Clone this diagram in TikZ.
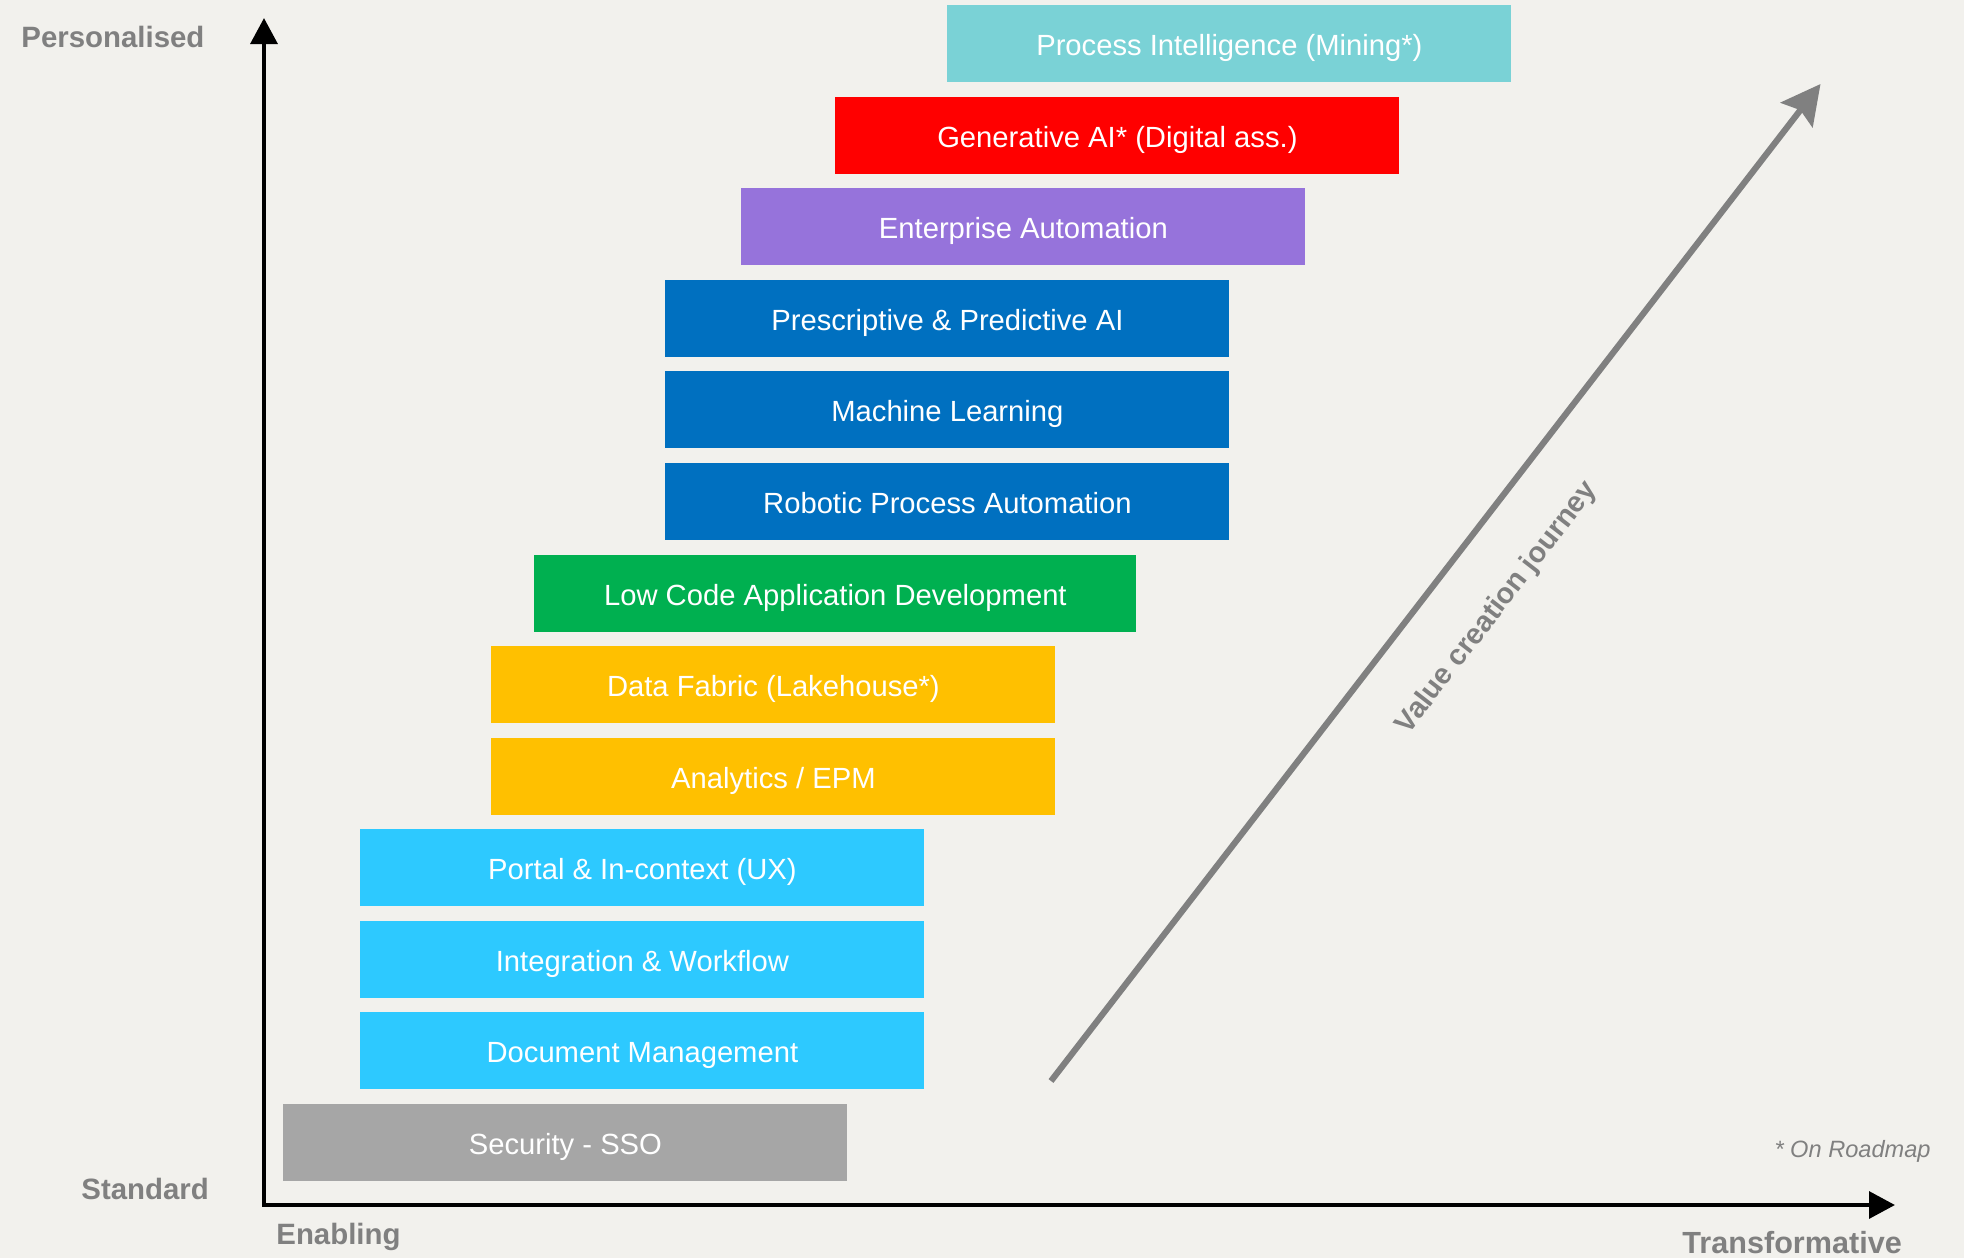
\documentclass[tikz,border=0pt]{standalone}
\usepackage{fontspec}
\setmainfont{Liberation Sans}
\usetikzlibrary{arrows.meta}
\definecolor{bg}{HTML}{F2F1ED}
\definecolor{cPI}{HTML}{7AD2D6}
\definecolor{cRed}{HTML}{FF0000}
\definecolor{cPur}{HTML}{9673DB}
\definecolor{cBlue}{HTML}{0070C0}
\definecolor{cGreen}{HTML}{00B050}
\definecolor{cYel}{HTML}{FFC000}
\definecolor{cLB}{HTML}{2DC9FF}
\definecolor{cGray}{HTML}{A6A6A6}
\definecolor{labgray}{HTML}{808080}
\begin{document}
\begin{tikzpicture}[x=0.5pt,y=-0.5pt,
  blk/.style={anchor=north west, minimum width=282pt, minimum height=38.5pt, inner sep=0pt,
    text=white, text height=11.6pt, text depth=0pt, font=\fontsize{14.6}{17}\selectfont},
  lbl/.style={text=labgray, inner sep=0pt, font=\bfseries\fontsize{14.7}{17}\selectfont},
  axis/.style={line width=2.25pt, {Triangle[length=13pt,width=13.3pt]}-{Triangle[length=13pt,width=13.3pt]}},
  journey/.style={draw=labgray, line width=3.1pt, -{Stealth[length=19.5pt,width=20pt,inset=3pt]}}]
\fill[bg] (0,0) rectangle (1964,1258);
\useasboundingbox (0,0) rectangle (1964,1258);

\node[blk, fill=cPI] (pi) at (947,5) {Process Intelligence (Mining*)};
\node[blk, fill=cRed] (gen) at (835,97) {Generative AI* (Digital ass.)};
\node[blk, fill=cPur] (ea) at (741,188) {Enterprise Automation};
\node[blk, fill=cBlue] (pp) at (665,280) {Prescriptive \& Predictive AI};
\node[blk, fill=cBlue] (ml) at (665,371) {Machine Learning};
\node[blk, fill=cBlue] (rpa) at (665,463) {Robotic Process Automation};
\node[blk, fill=cGreen, minimum width=301pt] (lc) at (534,555) {Low Code Application Development};
\node[blk, fill=cYel] (df) at (491,646) {Data Fabric (Lakehouse*)};
\node[blk, fill=cYel] (an) at (491,738) {Analytics / EPM};
\node[blk, fill=cLB] (po) at (360,829) {Portal \& In-context (UX)};
\node[blk, fill=cLB] (iw) at (360,921) {Integration \& Workflow};
\node[blk, fill=cLB] (dm) at (360,1012) {Document Management};
\node[blk, fill=cGray] (sso) at (283,1104) {Security - SSO};

\node[lbl, anchor=base west] (pers) at (21,47) {Personalised};
\node[lbl, anchor=base west] (std) at (81,1199) {Standard};
\node[lbl, anchor=base west] (enab) at (276,1244) {Enabling};
\node[lbl, anchor=base west, font=\bfseries\fontsize{15.3}{18}\selectfont] (trans) at (1682,1253) {Transformative};
\node[anchor=base east, text=labgray, inner sep=0pt, font=\itshape\fontsize{11.8}{14}\selectfont] (road) at (1931,1157) {* On Roadmap};
\node[lbl, rotate=52.3, font=\bfseries\fontsize{14.5}{17}\selectfont] (vcj) at (1497,608) {Value creation journey};

\coordinate (ytop) at (264,18);
\coordinate (origin) at (264,1205);
\coordinate (xend) at (1895,1205);
\draw[axis] (ytop) -- (origin) -- (xend);

\coordinate (vstart) at (1051,1081);
\coordinate (vend) at (1820.5,84);
\draw[journey] (vstart) -- (vend);
\end{tikzpicture}
\end{document}
